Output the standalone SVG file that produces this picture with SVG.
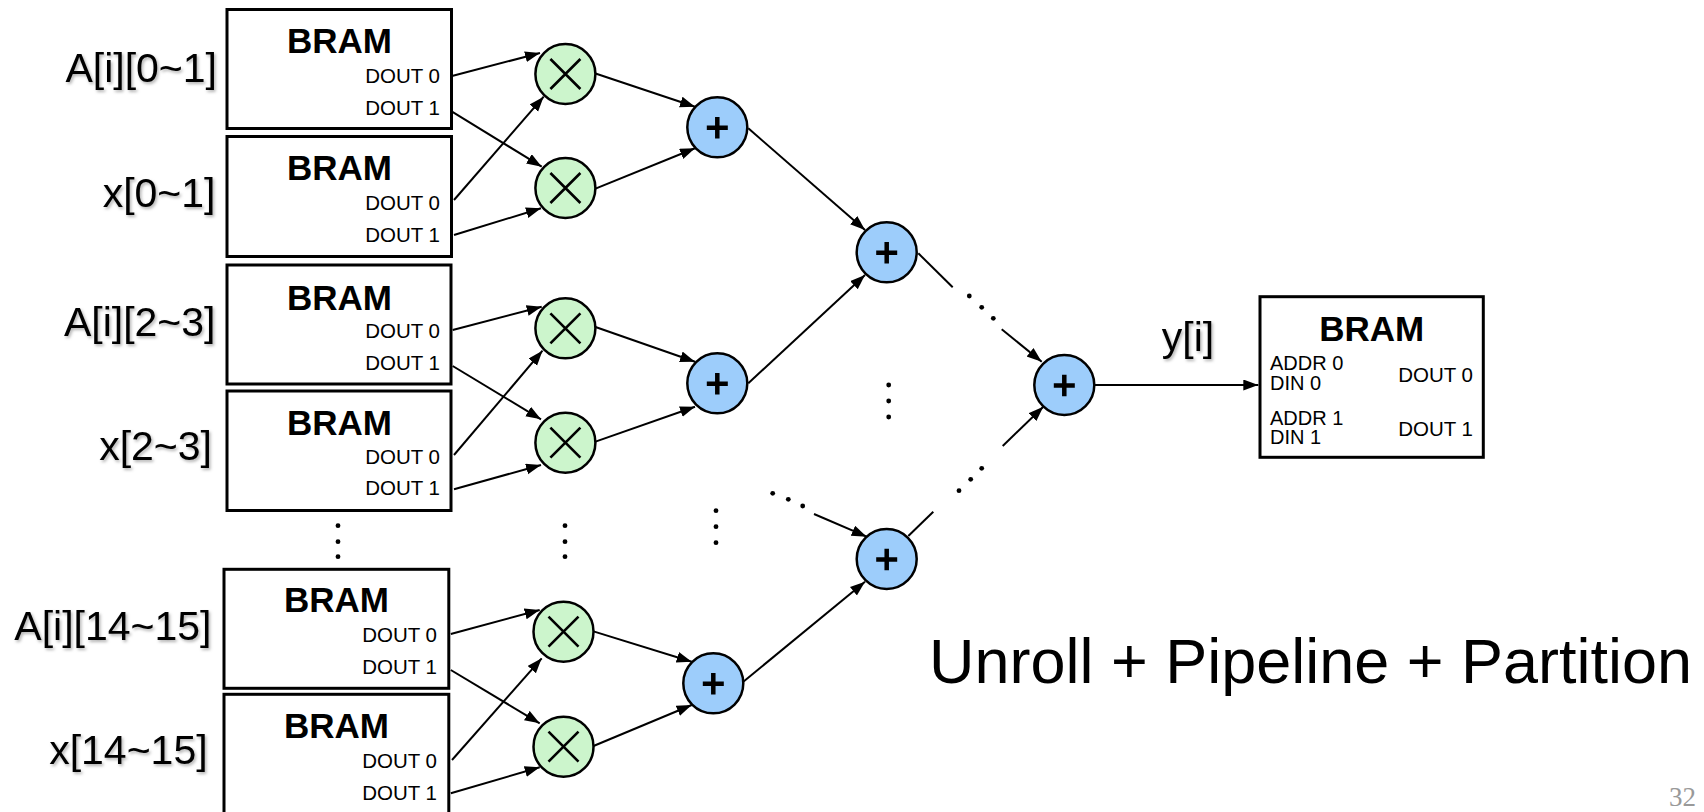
<svg xmlns="http://www.w3.org/2000/svg" width="1704" height="812" viewBox="0 0 1704 812">
  <defs>
    <marker id="arrow" markerUnits="userSpaceOnUse" markerWidth="16" markerHeight="12" refX="15" refY="5.5" orient="auto">
      <path d="M0,0 L15,5.5 L0,11 z" fill="#000"/>
    </marker>
    <filter id="soft" x="-10%" y="-20%" width="130%" height="150%">
      <feDropShadow dx="1.5" dy="2" stdDeviation="1.5" flood-color="#000" flood-opacity="0.3"/>
    </filter>
  </defs>
  <style>
    .box { fill: #fff; stroke: #000; stroke-width: 3; }
    .lbl { font-family: "Liberation Sans", Arial, sans-serif; font-size: 41px; fill: #000; text-anchor: end; }
    .title { font-family: "Liberation Sans", Arial, sans-serif; font-size: 35px; font-weight: bold; text-anchor: middle; }
    .port { font-family: "Liberation Sans", Arial, sans-serif; font-size: 20.5px; text-anchor: end; }
    .portl { font-family: "Liberation Sans", Arial, sans-serif; font-size: 20px; text-anchor: start; }
    .mul { fill: #ccf5cc; stroke: #000; stroke-width: 2.5; }
    .add { fill: #9dcdfb; stroke: #000; stroke-width: 2.5; }
    .sym { stroke: #000; stroke-width: 2.6; fill: none; }
    .plus { stroke: #000; stroke-width: 4.5; fill: none; }
    .wire { stroke: #000; stroke-width: 2; fill: none; }
    .arr { stroke: #000; stroke-width: 2; fill: none; marker-end: url(#arrow); }
    .dot { fill: #000; }
  </style>

  <!-- input memories -->
  <g id="bram-a01">
    <rect class="box" x="227" y="9.5" width="224.5" height="119"/>
    <text class="title" x="339.5" y="53">BRAM</text>
    <text class="port" x="440" y="82.5">DOUT 0</text>
    <text class="port" x="440" y="115">DOUT 1</text>
  </g>
  <g id="bram-x01">
    <rect class="box" x="227" y="136.5" width="224.5" height="120"/>
    <text class="title" x="339.5" y="180">BRAM</text>
    <text class="port" x="440" y="210">DOUT 0</text>
    <text class="port" x="440" y="242">DOUT 1</text>
  </g>
  <g id="bram-a23">
    <rect class="box" x="227" y="265" width="224" height="119"/>
    <text class="title" x="339.5" y="310">BRAM</text>
    <text class="port" x="440" y="337.5">DOUT 0</text>
    <text class="port" x="440" y="370">DOUT 1</text>
  </g>
  <g id="bram-x23">
    <rect class="box" x="227" y="391" width="224" height="119.5"/>
    <text class="title" x="339.5" y="435">BRAM</text>
    <text class="port" x="440" y="463.5">DOUT 0</text>
    <text class="port" x="440" y="495">DOUT 1</text>
  </g>
  <g id="bram-a1415">
    <rect class="box" x="224" y="569.3" width="224.8" height="119"/>
    <text class="title" x="336.5" y="612">BRAM</text>
    <text class="port" x="437" y="642">DOUT 0</text>
    <text class="port" x="437" y="673.5">DOUT 1</text>
  </g>
  <g id="bram-x1415">
    <rect class="box" x="224" y="694.3" width="224.8" height="120"/>
    <text class="title" x="336.5" y="737.5">BRAM</text>
    <text class="port" x="437" y="767.5">DOUT 0</text>
    <text class="port" x="437" y="799.5">DOUT 1</text>
  </g>

  <!-- array labels -->
  <g id="labels" filter="url(#soft)">
    <text class="lbl" x="217" y="82">A[i][0~1]</text>
    <text class="lbl" x="215.5" y="207">x[0~1]</text>
    <text class="lbl" x="215.5" y="336">A[i][2~3]</text>
    <text class="lbl" x="212" y="460">x[2~3]</text>
    <text class="lbl" x="211.5" y="639.5">A[i][14~15]</text>
    <text class="lbl" x="207.6" y="763.5">x[14~15]</text>
    <text class="lbl" x="1188" y="351" style="text-anchor:middle">y[i]</text>
  </g>

  <!-- multipliers -->
  <g id="mul1"><circle class="mul" cx="565.4" cy="74" r="30"/><path class="sym" d="M550.4,59 L580.4,89 M580.4,59 L550.4,89"/></g>
  <g id="mul2"><circle class="mul" cx="565.4" cy="188" r="30"/><path class="sym" d="M550.4,173 L580.4,203 M580.4,173 L550.4,203"/></g>
  <g id="mul3"><circle class="mul" cx="565.4" cy="328.3" r="30"/><path class="sym" d="M550.4,313.3 L580.4,343.3 M580.4,313.3 L550.4,343.3"/></g>
  <g id="mul4"><circle class="mul" cx="565.4" cy="442.7" r="30"/><path class="sym" d="M550.4,427.7 L580.4,457.7 M580.4,427.7 L550.4,457.7"/></g>
  <g id="mul5"><circle class="mul" cx="563.5" cy="631.7" r="30"/><path class="sym" d="M548.5,616.7 L578.5,646.7 M578.5,616.7 L548.5,646.7"/></g>
  <g id="mul6"><circle class="mul" cx="563.5" cy="746.7" r="30"/><path class="sym" d="M548.5,731.7 L578.5,761.7 M578.5,731.7 L548.5,761.7"/></g>

  <!-- adders -->
  <g id="add1"><circle class="add" cx="717.3" cy="127.3" r="30"/><path class="plus" d="M706.8,127.8 H727.8 M717.3,117 V138.5"/></g>
  <g id="add2"><circle class="add" cx="717.3" cy="383.3" r="30"/><path class="plus" d="M706.8,383.8 H727.8 M717.3,373 V394.5"/></g>
  <g id="add3"><circle class="add" cx="713.3" cy="683.3" r="30"/><path class="plus" d="M702.8,683.8 H723.8 M713.3,673 V694.5"/></g>
  <g id="add4"><circle class="add" cx="886.7" cy="252.3" r="30"/><path class="plus" d="M876.2,252.8 H897.2 M886.7,242 V263.5"/></g>
  <g id="add5"><circle class="add" cx="886.7" cy="559" r="30"/><path class="plus" d="M876.2,559.5 H897.2 M886.7,548.7 V570.2"/></g>
  <g id="add6"><circle class="add" cx="1064.3" cy="385" r="30"/><path class="plus" d="M1053.8,385.5 H1074.8 M1064.3,374.7 V396.2"/></g>

  <!-- output memory -->
  <g id="bram-y">
    <rect class="box" x="1260" y="296.7" width="223.3" height="160.6"/>
    <text class="title" x="1371.7" y="341">BRAM</text>
    <text class="portl" x="1270" y="370">ADDR 0</text>
    <text class="portl" x="1270" y="390">DIN 0</text>
    <text class="portl" x="1270" y="425">ADDR 1</text>
    <text class="portl" x="1270" y="444">DIN 1</text>
    <text class="port" x="1473" y="382">DOUT 0</text>
    <text class="port" x="1473" y="436">DOUT 1</text>
  </g>

  <!-- connectors -->
  <g id="connectors">
    <line class="arr" x1="452" y1="76" x2="540" y2="53"/>
    <line class="arr" x1="452" y1="111.7" x2="541.7" y2="166.7"/>
    <line class="arr" x1="454" y1="200" x2="543.7" y2="96.7"/>
    <line class="arr" x1="454" y1="235" x2="541" y2="208.3"/>

    <line class="arr" x1="452.7" y1="330" x2="541.7" y2="306.7"/>
    <line class="arr" x1="452.7" y1="366" x2="541" y2="419.3"/>
    <line class="arr" x1="454" y1="455" x2="542.5" y2="350.7"/>
    <line class="arr" x1="454" y1="489.3" x2="541" y2="465"/>

    <line class="arr" x1="450.8" y1="634" x2="539.7" y2="610"/>
    <line class="arr" x1="450.8" y1="670" x2="539.7" y2="723.3"/>
    <line class="arr" x1="452" y1="760" x2="541.7" y2="658.3"/>
    <line class="arr" x1="450.8" y1="793.3" x2="539.7" y2="767.3"/>

    <line class="arr" x1="595.5" y1="73.5" x2="695" y2="106.7"/>
    <line class="arr" x1="595.5" y1="188.6" x2="695" y2="148.3"/>
    <line class="arr" x1="595.5" y1="327" x2="695" y2="361.7"/>
    <line class="arr" x1="595.5" y1="441.6" x2="695" y2="406.7"/>
    <line class="arr" x1="593.5" y1="631.4" x2="691.7" y2="661.7"/>
    <line class="arr" x1="593.5" y1="746" x2="691.7" y2="705"/>

    <line class="arr" x1="748.3" y1="128.3" x2="865" y2="230"/>
    <line class="arr" x1="748.3" y1="383.3" x2="865" y2="275"/>
    <line class="arr" x1="743.3" y1="681.7" x2="865" y2="581.7"/>
    <line class="arr" x1="814" y1="514" x2="866.7" y2="536.7"/>

    <line class="wire" x1="918.3" y1="253.3" x2="952.7" y2="287.3"/>
    <line class="arr" x1="1001.7" y1="329.3" x2="1041.7" y2="361.7"/>
    <line class="wire" x1="908.3" y1="536" x2="933.3" y2="511.7"/>
    <line class="arr" x1="1002.7" y1="446" x2="1043.3" y2="406.7"/>

    <line class="arr" x1="1094.3" y1="385" x2="1258.3" y2="385"/>
  </g>

  <!-- ellipsis dots -->
  <g id="ellipses">
    <circle class="dot" cx="338" cy="525.7" r="2.4"/>
    <circle class="dot" cx="338" cy="541.7" r="2.4"/>
    <circle class="dot" cx="338" cy="556.7" r="2.4"/>
    <circle class="dot" cx="565" cy="525.7" r="2.4"/>
    <circle class="dot" cx="565" cy="541.7" r="2.4"/>
    <circle class="dot" cx="565" cy="556.7" r="2.4"/>
    <circle class="dot" cx="716" cy="510.7" r="2.4"/>
    <circle class="dot" cx="716" cy="526.7" r="2.4"/>
    <circle class="dot" cx="716" cy="542.7" r="2.4"/>
    <circle class="dot" cx="888.7" cy="385" r="2.4"/>
    <circle class="dot" cx="888.7" cy="401" r="2.4"/>
    <circle class="dot" cx="888.7" cy="417" r="2.4"/>
    <circle class="dot" cx="772.7" cy="493.3" r="2.4"/>
    <circle class="dot" cx="788.3" cy="499.3" r="2.4"/>
    <circle class="dot" cx="802.7" cy="506" r="2.4"/>
    <circle class="dot" cx="969.3" cy="296" r="2.4"/>
    <circle class="dot" cx="981.7" cy="307.3" r="2.4"/>
    <circle class="dot" cx="993.3" cy="318.3" r="2.4"/>
    <circle class="dot" cx="959" cy="490.7" r="2.4"/>
    <circle class="dot" cx="970.7" cy="479.3" r="2.4"/>
    <circle class="dot" cx="981.7" cy="468.3" r="2.4"/>
  </g>

  <!-- caption and page number -->
  <text x="929" y="683" font-family="Liberation Sans, Arial, sans-serif" font-size="63" textLength="763" lengthAdjust="spacingAndGlyphs">Unroll + Pipeline + Partition</text>
  <text x="1696" y="806" font-family="Liberation Serif, Times New Roman, serif" font-size="27" fill="#999" text-anchor="end">32</text>
</svg>
